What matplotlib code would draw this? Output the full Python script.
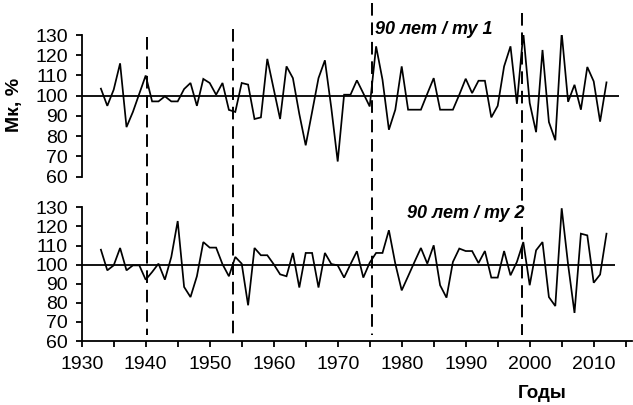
import matplotlib
matplotlib.use("Agg")
import matplotlib.pyplot as plt
from matplotlib.lines import Line2D
from matplotlib.ticker import MultipleLocator
from matplotlib.transforms import blended_transform_factory

plt.rcParams['font.family'] = ['Liberation Sans', 'DejaVu Sans']

years = list(range(1933, 2013))

series_1 = [103.5, 95, 103, 116, 84.5, 92, 101, 110, 97.2, 97.2,
            99.7, 97.2, 97.2, 103.3, 106.3, 95, 108.3, 106.3, 100.5, 106.3,
            93, 92, 106.3, 105.5, 88.5, 89.3, 118.2, 103.3, 88.5, 114.5,
            108.7, 91, 75.5, 92, 108.7, 117.5, 94, 67.5, 100.5, 100.5,
            107.6, 101.2, 94.7, 124.4, 107.9, 83.2, 93.1, 114.5, 93.1, 93.1,
            93.1, 101, 108.7, 93.1, 93.1, 93.1, 100.5, 108.4, 101.3, 107.4,
            107.4, 89.3, 95, 114.5, 124.4, 96, 131, 96.4, 82, 122.6,
            87, 78, 131, 97, 105.4, 93.1, 114.2, 107.1, 87.2, 106.6]

series_2 = [107.8, 97, 99.6, 108.7, 97, 99.6, 99.6, 92.1, 96.1, 100.5,
            92.1, 104, 122.8, 88.3, 83, 93.9, 111.8, 108.9, 108.9, 100.2,
            93.9, 104, 100.5, 78.7, 108.7, 104.9, 104.9, 100.2, 94.9, 93.9,
            106.1, 88, 106.1, 106.1, 88, 106.1, 100.3, 99.6, 93.2, 100.2,
            107, 93.2, 101, 106.1, 106.1, 118, 100.5, 86.5, 93.9, 101.4,
            108.7, 100.5, 110.1, 89.2, 82.7, 101.4, 108.4, 107.1, 107.1, 100.8,
            107.1, 93.2, 93.2, 107.1, 94.4, 101.4, 111.8, 89.2, 107.5, 111.8,
            83, 78.3, 129.5, 100, 74.7, 116.2, 115.3, 90.5, 94.8, 116.2]

break_years = [1940.2, 1953.7, 1975.3, 1998.8]
y_ticks = [60, 70, 80, 90, 100, 110, 120, 130]
x_ticks = [1930, 1940, 1950, 1960, 1970, 1980, 1990, 2000, 2010]
labels = ["90 лет / ту 1", "90 лет / ту 2"]

W, H = 633, 405
fig = plt.figure(figsize=(W / 100, H / 100), dpi=100)

def px_rect(x0, x1, ytop, ybot):
    return [x0 / W, (H - ybot) / H, (x1 - x0) / W, (ybot - ytop) / H]

ax1 = fig.add_axes(px_rect(81.7, 632.1, 35, 176.7))
ax2 = fig.add_axes(px_rect(81.7, 632.1, 207.3, 341))

for ax, s in ((ax1, series_1), (ax2, series_2)):
    ax.plot(years, s, color='black', lw=1.25, solid_joinstyle='miter')
    ax.set_xlim(1930, 2016)
    ax.set_ylim(60, 130)
    ax.set_yticks(y_ticks)
    for sp in ('top', 'right'):
        ax.spines[sp].set_visible(False)
    ax.spines['left'].set_linewidth(1.3)
    ax.tick_params(axis='y', direction='out', length=4, width=1.3, labelsize=14, pad=6)
    ax.patch.set_alpha(0)

ax1.hlines(100, 1930, 2014, color='black', lw=1.3)
ax2.hlines(100, 1930, 2013.3, color='black', lw=1.3)

ax1.spines['bottom'].set_visible(False)
ax1.set_xticks([])

ax2.spines['bottom'].set_linewidth(1.3)
ax2.set_xticks(x_ticks)
ax2.xaxis.set_minor_locator(MultipleLocator(5))
ax2.tick_params(axis='x', which='both', direction='out', length=4, width=1.3)
ax2.tick_params(axis='x', which='major', labelsize=14, pad=7)

trans = blended_transform_factory(ax2.transData, fig.transFigure)
tops = [37, 29, 3, 13]
for xv, yt in zip(break_years, tops):
    fig.add_artist(Line2D([xv, xv], [(H - yt) / H, (H - 335) / H], transform=trans,
                          color='black', lw=1.4, dashes=(6.5, 3.5), zorder=1))

box = dict(facecolor='white', edgecolor='none', pad=1.5)
fig.text(375 / W, 1 - 29 / H, labels[0], fontsize=13, fontweight='bold',
         fontstyle='italic', va='center', ha='left', bbox=box, zorder=5)
fig.text(407 / W, 1 - 213 / H, labels[1], fontsize=13, fontweight='bold',
         fontstyle='italic', va='center', ha='left', bbox=box, zorder=5)

fig.text(15 / W, 1 - 105 / H, "Мк, %", rotation=90, fontsize=14, fontweight='bold',
         va='center', ha='center')
fig.text(542 / W, 1 - 393 / H, "Годы", fontsize=13.5, fontweight='bold',
         va='center', ha='center')

fig.savefig("out.png", dpi=100)
